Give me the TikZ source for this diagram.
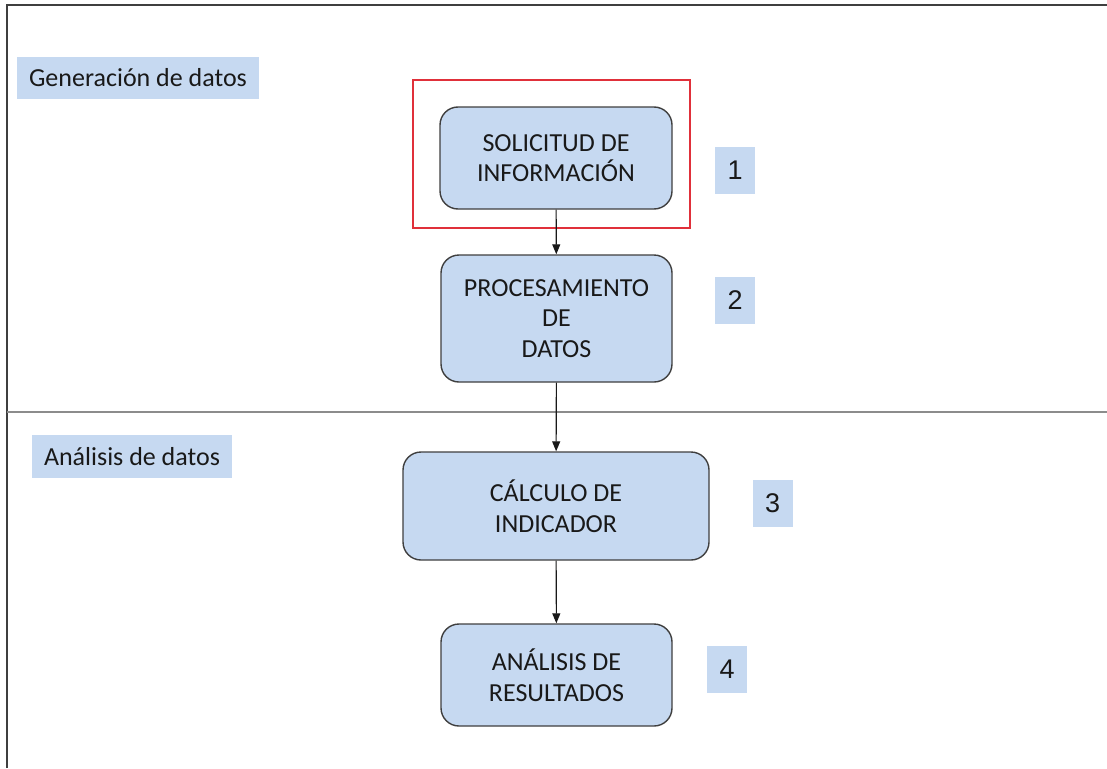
\documentclass[tikz,border=0pt]{standalone}
\usepackage{fontspec}
\setmainfont{Carlito}
\newfontfamily\numfont{Liberation Sans}
\usetikzlibrary{arrows.meta}
\definecolor{boxfill}{HTML}{C6D9F1}
\definecolor{boxline}{HTML}{3F3F3F}
\definecolor{framered}{HTML}{E0303A}
\definecolor{divider}{HTML}{8C8C8C}
\tikzset{
  stepbox/.style={draw=boxline, line width=1.4pt, fill=boxfill, rounded corners=18pt,
    inner sep=0pt, align=center, font=\fontsize{26}{30.5}\selectfont, text=black!90},
  phase/.style={fill=boxfill, inner sep=0pt, font=\fontsize{26}{30}\selectfont, text=black!90},
  stepnum/.style={fill=boxfill, inner sep=0pt, minimum width=40pt, minimum height=47pt,
    font=\numfont\fontsize{27}{30}\selectfont, text=black!90},
  flow/.style={line width=1.1pt, draw=black!90, -{Triangle[length=10pt,width=8pt]}}
}
\begin{document}
\begin{tikzpicture}[x=1pt,y=-1pt]
\useasboundingbox (0,0) rectangle (1107,768);
\fill[white] (0,0) rectangle (1107,768);

% page frame and phase divider
\draw[boxline, line width=2pt] (7,768) -- (7,5) -- (1107,5);
\draw[divider, line width=1.3pt] (7,412) -- (1107,412);

% phase labels
\node[phase, minimum width=242pt, minimum height=42pt] (gen) at (138,78) {Generación de datos};
\node[phase, minimum width=200pt, minimum height=43pt] (ana) at (132,456.5) {Análisis de datos};

% highlight frame around the first step
\node[draw=framered, line width=1.2pt, minimum width=277pt, minimum height=148pt, inner sep=0pt] (hl) at (551.5,154) {};

% steps
\node[stepbox, minimum width=232pt, minimum height=102pt] (s1) at (556,158) {SOLICITUD DE\\INFORMACIÓN};
\node[stepbox, minimum width=231pt, minimum height=127pt] (s2) at (556.5,318.5) {PROCESAMIENTO\\DE\\DATOS};
\node[stepbox, minimum width=306pt, minimum height=108pt] (s3) at (556,506) {CÁLCULO DE\\INDICADOR};
\node[stepbox, minimum width=231pt, minimum height=102pt] (s4) at (556.5,675) {ANÁLISIS DE\\RESULTADOS};

% step numbers
\node[stepnum] (n1) at (735,170.5) {1};
\node[stepnum] (n2) at (735,300) {2};
\node[stepnum] (n3) at (772.5,503) {3};
\node[stepnum] (n4) at (727,669.5) {4};

% flow
\draw[flow] (s1) -- (s2);
\draw[flow] (s2) -- (s3);
\draw[flow] (s3) -- (s4);
\end{tikzpicture}
\end{document}
